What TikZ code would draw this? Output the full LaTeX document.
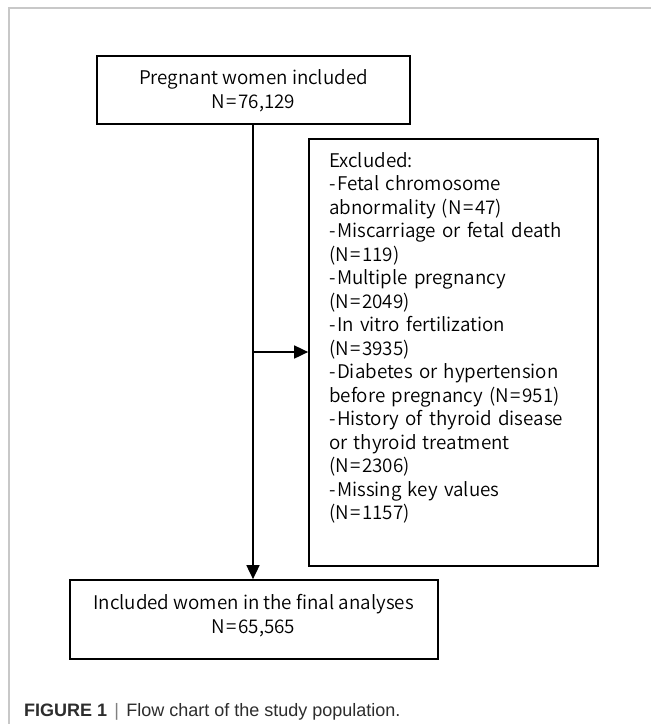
\documentclass[tikz,border=0pt]{standalone}
\usepackage{fontspec}
\setmainfont{Liberation Sans}
\newfontfamily\chartfont{Noto Sans CJK SC DemiLight}
\usetikzlibrary{arrows.meta}
\definecolor{framegray}{RGB}{200,200,200}
\definecolor{capgray}{RGB}{45,45,45}
\newcommand{\eqs}{\kern1.5pt=\kern1.5pt}
\newcommand{\hy}{-\kern1.5pt}
\begin{document}
\begin{tikzpicture}[x=1pt,y=-1pt,
  box/.style={draw=black,line width=1.7pt,inner sep=0pt},
  boxtext/.style={font=\chartfont\fontsize{18.8}{24}\selectfont,align=center,inner sep=0pt},
  conn/.style={draw=black,line width=1.7pt},
  tip/.style={-{Triangle[length=14pt,width=13pt]}}]
\useasboundingbox (0,0) rectangle (651,724);
\fill[white] (0,0) rectangle (651,724);
% frame
\draw[framegray,line width=1.5pt] (9,724) -- (9,8) -- (651,8);
% boxes
\node[box,minimum width=313pt,minimum height=68pt] (top) at (253.5,90) {};
\node[boxtext] (toptext) at (253.5,91) {Pregnant women included\\N\eqs76,129};
\node[box,minimum width=289pt,minimum height=427pt] (exc) at (453.5,352.5) {};
\node[font=\chartfont\fontsize{18.8}{23.5}\selectfont,align=left,anchor=north west,inner sep=0pt,text width=265pt] (exctext) at (329,152) {Excluded:\\\hy Fetal chromosome\\abnormality (N\eqs47)\\\hy Miscarriage or fetal death\\(N\eqs119)\\\hy Multiple pregnancy\\(N\eqs2049)\\\hy In vitro fertilization\\(N\eqs3935)\\\hy Diabetes or hypertension\\before pregnancy (N\eqs951)\\\hy History of thyroid disease\\or thyroid treatment\\(N\eqs2306)\\\hy Missing key values\\(N\eqs1157)};
\node[box,minimum width=368pt,minimum height=79pt] (bot) at (254,619.5) {};
\node[boxtext] (bottext) at (253.5,616) {Included women in the final analyses\\N\eqs65,565};
% connectors
\coordinate (split) at (253,352);
\draw[conn,tip] (top.south -| split) -- (bot.north -| split);
\draw[conn,tip] (split) -- (split -| exc.west);
% caption
\node[anchor=base west,inner sep=0pt,font=\fontsize{18}{20}\selectfont,text=capgray] (cap) at (24,716) {\textbf{FIGURE 1}\hspace{0.4em}{\color{gray}|}\hspace{0.4em}Flow chart of the study population.};
\end{tikzpicture}
\end{document}
